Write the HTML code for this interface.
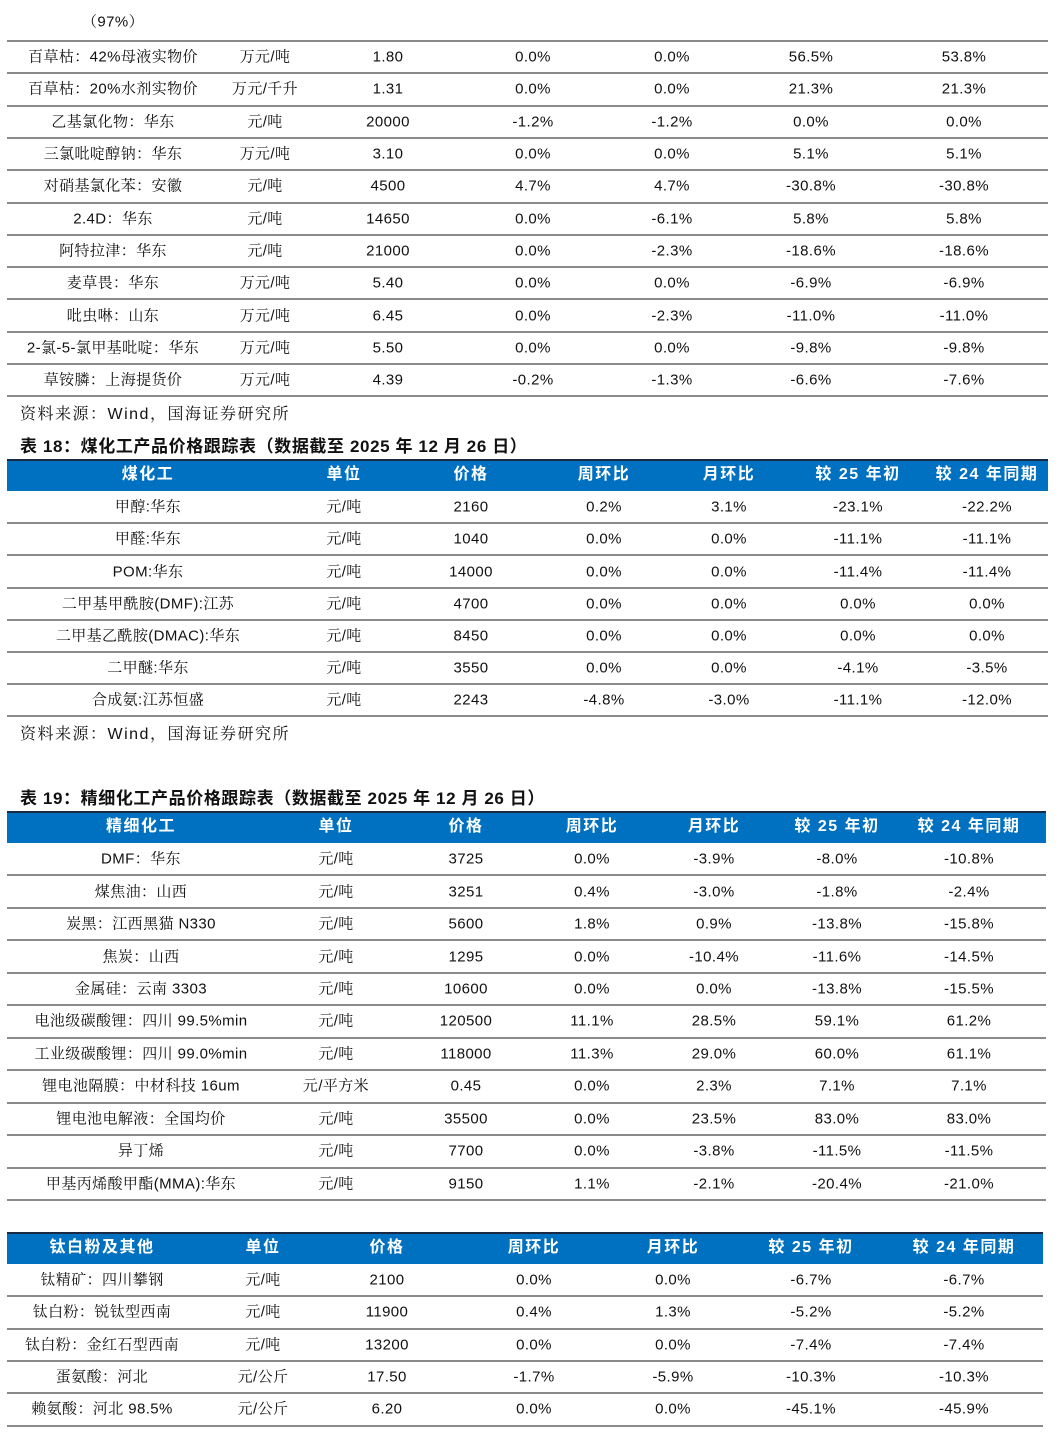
<!DOCTYPE html>
<html><head><meta charset="utf-8">
<style>
html,body{margin:0;padding:0;background:#fff;}
body{width:1059px;height:1446px;position:relative;overflow:hidden;font-family:"Liberation Sans","Noto Serif CJK SC",serif;color:#111;}
.t{position:absolute;font-size:15px;white-space:nowrap;transform:translate(-50%,-50%);line-height:1;letter-spacing:0.4px;}
.h{color:#fff;font-weight:bold;font-family:"Liberation Sans","Noto Sans CJK SC",sans-serif;letter-spacing:1.5px;font-size:16px;}
.line{position:absolute;height:2px;background:#8a8a8a;}
.hdr{position:absolute;background:#0070C0;border-top:2px solid #1a2a44;}
.cap{position:absolute;font-size:17px;font-weight:bold;font-family:"Liberation Sans","Noto Sans CJK SC",sans-serif;white-space:nowrap;letter-spacing:0.6px;}
.src{position:absolute;font-size:16px;white-space:nowrap;letter-spacing:1.5px;}
</style></head><body>
<div class="t" style="left:113px;top:22px">（97%）</div>
<div class="src" style="left:20px;top:401px">资料来源：Wind，国海证券研究所</div>
<div class="cap" style="left:20px;top:432px">表 18：煤化工产品价格跟踪表（数据截至 2025 年 12 月 26 日）</div>
<div class="src" style="left:20px;top:721px">资料来源：Wind，国海证券研究所</div>
<div class="cap" style="left:20px;top:784px">表 19：精细化工产品价格跟踪表（数据截至 2025 年 12 月 26 日）</div>
<script>
const tables=[
{name:'pesticide-table',header:null,hy:0,top:41,step:32.3,x0:7,x1:1048,cols:[113,265,388,533,672,811,964],rows:[
['百草枯：42%母液实物价','万元/吨','1.80','0.0%','0.0%','56.5%','53.8%'],
['百草枯：20%水剂实物价','万元/千升','1.31','0.0%','0.0%','21.3%','21.3%'],
['乙基氯化物：华东','元/吨','20000','-1.2%','-1.2%','0.0%','0.0%'],
['三氯吡啶醇钠：华东','万元/吨','3.10','0.0%','0.0%','5.1%','5.1%'],
['对硝基氯化苯：安徽','元/吨','4500','4.7%','4.7%','-30.8%','-30.8%'],
['2.4D：华东','元/吨','14650','0.0%','-6.1%','5.8%','5.8%'],
['阿特拉津：华东','元/吨','21000','0.0%','-2.3%','-18.6%','-18.6%'],
['麦草畏：华东','万元/吨','5.40','0.0%','0.0%','-6.9%','-6.9%'],
['吡虫啉：山东','万元/吨','6.45','0.0%','-2.3%','-11.0%','-11.0%'],
['2-氯-5-氯甲基吡啶：华东','万元/吨','5.50','0.0%','0.0%','-9.8%','-9.8%'],
['草铵膦：上海提货价','万元/吨','4.39','-0.2%','-1.3%','-6.6%','-7.6%']]},
{name:'coal-chem-table',header:['煤化工','单位','价格','周环比','月环比','较 25 年初','较 24 年同期'],hy:459,top:491,step:32.2,x0:7,x1:1048,cols:[148,344,471,604,729,858,987],rows:[
['甲醇:华东','元/吨','2160','0.2%','3.1%','-23.1%','-22.2%'],
['甲醛:华东','元/吨','1040','0.0%','0.0%','-11.1%','-11.1%'],
['POM:华东','元/吨','14000','0.0%','0.0%','-11.4%','-11.4%'],
['二甲基甲酰胺(DMF):江苏','元/吨','4700','0.0%','0.0%','0.0%','0.0%'],
['二甲基乙酰胺(DMAC):华东','元/吨','8450','0.0%','0.0%','0.0%','0.0%'],
['二甲醚:华东','元/吨','3550','0.0%','0.0%','-4.1%','-3.5%'],
['合成氨:江苏恒盛','元/吨','2243','-4.8%','-3.0%','-11.1%','-12.0%']]},
{name:'fine-chem-table',header:['精细化工','单位','价格','周环比','月环比','较 25 年初','较 24 年同期'],hy:811,top:843,step:32.45,x0:7,x1:1046,cols:[141,336,466,592,714,837,969],rows:[
['DMF：华东','元/吨','3725','0.0%','-3.9%','-8.0%','-10.8%'],
['煤焦油：山西','元/吨','3251','0.4%','-3.0%','-1.8%','-2.4%'],
['炭黑：江西黑猫 N330','元/吨','5600','1.8%','0.9%','-13.8%','-15.8%'],
['焦炭：山西','元/吨','1295','0.0%','-10.4%','-11.6%','-14.5%'],
['金属硅：云南 3303','元/吨','10600','0.0%','0.0%','-13.8%','-15.5%'],
['电池级碳酸锂：四川 99.5%min','元/吨','120500','11.1%','28.5%','59.1%','61.2%'],
['工业级碳酸锂：四川 99.0%min','元/吨','118000','11.3%','29.0%','60.0%','61.1%'],
['锂电池隔膜：中材科技 16um','元/平方米','0.45','0.0%','2.3%','7.1%','7.1%'],
['锂电池电解液：全国均价','元/吨','35500','0.0%','23.5%','83.0%','83.0%'],
['异丁烯','元/吨','7700','0.0%','-3.8%','-11.5%','-11.5%'],
['甲基丙烯酸甲酯(MMA):华东','元/吨','9150','1.1%','-2.1%','-20.4%','-21.0%']]},
{name:'titanium-table',header:['钛白粉及其他','单位','价格','周环比','月环比','较 25 年初','较 24 年同期'],hy:1232,top:1264,step:32.3,x0:7,x1:1043,cols:[102,263,387,534,673,811,964],rows:[
['钛精矿：四川攀钢','元/吨','2100','0.0%','0.0%','-6.7%','-6.7%'],
['钛白粉：锐钛型西南','元/吨','11900','0.4%','1.3%','-5.2%','-5.2%'],
['钛白粉：金红石型西南','元/吨','13200','0.0%','0.0%','-7.4%','-7.4%'],
['蛋氨酸：河北','元/公斤','17.50','-1.7%','-5.9%','-10.3%','-10.3%'],
['赖氨酸：河北 98.5%','元/公斤','6.20','0.0%','0.0%','-45.1%','-45.9%']]}
];
tables.forEach(tb=>{
  if(tb.header){
    const h=document.createElement('div');h.className='hdr';
    h.style.cssText=`left:${tb.x0}px;top:${tb.hy}px;width:${tb.x1-tb.x0}px;height:${tb.top-tb.hy-2}px`;
    
    
    document.body.appendChild(h);
    tb.header.forEach((c,i)=>{
      const d=document.createElement('div');d.className='t h';d.textContent=c;
      d.style.left=tb.cols[i]+'px';d.style.top=((tb.hy+tb.top)/2)+'px';
      
      
      document.body.appendChild(d);
    });
  } else {
    const l=document.createElement('div');l.className='line';
    l.style.cssText=`left:${tb.x0}px;top:${tb.top-1}px;width:${tb.x1-tb.x0}px`;
    
    
    document.body.appendChild(l);
  }
  tb.rows.forEach((r,ri)=>{
    const y0=tb.top+ri*tb.step;
    r.forEach((c,i)=>{
      const d=document.createElement('div');d.className='t';d.textContent=c;
      d.style.left=tb.cols[i]+'px';d.style.top=(y0+tb.step/2)+'px';
      
      
      document.body.appendChild(d);
    });
    const l=document.createElement('div');l.className='line';
    l.style.cssText=`left:${tb.x0}px;top:${y0+tb.step-1}px;width:${tb.x1-tb.x0}px`;
    
    
    document.body.appendChild(l);
  });
});
</script>
</body></html>
